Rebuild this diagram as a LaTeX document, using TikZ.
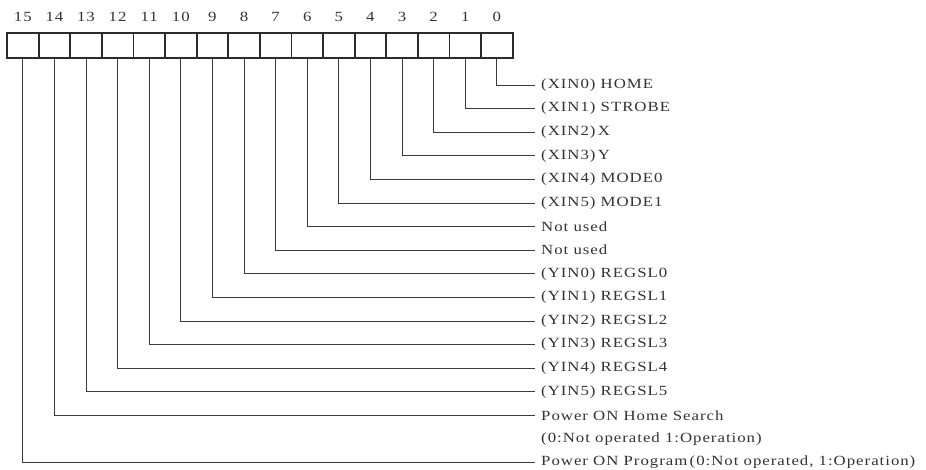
\documentclass[tikz,border=0pt]{standalone}
\usepackage{fontspec}
\setmainfont{Liberation Serif}[FakeStretch=1.2,LetterSpace=7]
\usepackage{tikz}
\usetikzlibrary{positioning}
\definecolor{BoxInk}{HTML}{2B2B2B}
\definecolor{WireInk}{HTML}{3A3A3A}
\definecolor{TextInk}{HTML}{333333}

\begin{document}
\begin{tikzpicture}[x=1pt, y=-1pt,
    cell/.style={rectangle,draw=BoxInk,line width=1.8pt,minimum width=31.6pt,minimum height=25pt,inner sep=0pt},
    bitno/.style={text=TextInk,font=\fontsize{14}{16}\selectfont,inner sep=0pt},
    item/.style={anchor=west,text=TextInk,font=\fontsize{14}{16}\selectfont,inner sep=0pt},
    wire/.style={draw=WireInk,line width=1pt}]
    \useasboundingbox (0,0) rectangle (926,469);
    % register cells, bit 15 on the left
    \foreach \i in {0,...,15} {
      \node[cell] (c\i) at ({7+31.6*(15-\i)+15.8},45.5) {};
      \node[bitno] (n\i) at ({7+31.6*(15-\i)+15.8},17) {\i};
    }
    % signal names
    \node[item] (l0) at (541,85) {(XIN0) HOME};
    \node[item] (l1) at (541,108.6) {(XIN1) STROBE};
    \node[item] (l2) at (541,132.2) {(XIN2)\,X};
    \node[item] (l3) at (541,155.8) {(XIN3)\,Y};
    \node[item] (l4) at (541,179.4) {(XIN4) MODE0};
    \node[item] (l5) at (541,203) {(XIN5) MODE1};
    \node[item] (l6) at (541,226.6) {Not used};
    \node[item] (l7) at (541,250.2) {Not used};
    \node[item] (l8) at (541,273.8) {(YIN0) REGSL0};
    \node[item] (l9) at (541,297.4) {(YIN1) REGSL1};
    \node[item] (l10) at (541,321) {(YIN2) REGSL2};
    \node[item] (l11) at (541,344.6) {(YIN3) REGSL3};
    \node[item] (l12) at (541,368.2) {(YIN4) REGSL4};
    \node[item] (l13) at (541,391.8) {(YIN5) REGSL5};
    \node[item] (l14) at (541,415.4) {Power ON Home Search};
    \node[item] (lnote) at (541,439) {(0:Not operated 1:Operation)};
    \node[item] (l15) at (541,462.6) {Power ON Program\,(0:Not operated, 1:Operation)};
    % leader lines
    \foreach \i in {0,...,15}
      \draw[wire] (c\i.south) |- ([xshift=-6pt]l\i.west);
  \end{tikzpicture}
\end{document}
